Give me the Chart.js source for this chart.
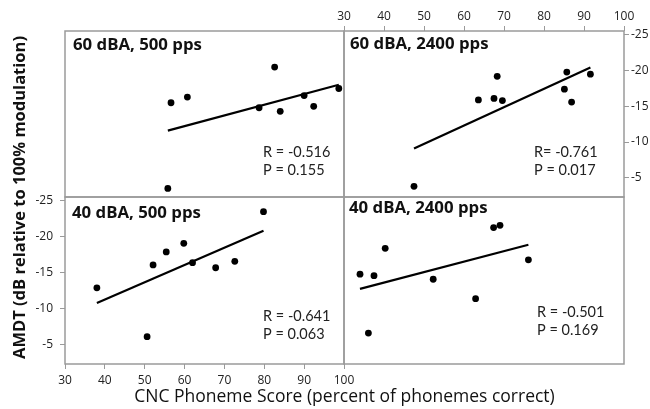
<!DOCTYPE html>
<html>
<head>
<meta charset="utf-8">
<script src="https://cdn.jsdelivr.net/npm/chart.js@4.4.1/dist/chart.umd.min.js"></script>
<style>
    html, body { margin: 0; padding: 0; background: #fff; }
    #wrap { position: relative; width: 650px; height: 409px; }
    #wrap canvas { position: absolute; left: 0; top: 0; }
</style>
</head>
<body>
<div id="wrap">
    <canvas id="p60_500" width="650" height="409"></canvas>
    <canvas id="p60_2400" width="650" height="409"></canvas>
    <canvas id="p40_500" width="650" height="409"></canvas>
    <canvas id="p40_2400" width="650" height="409"></canvas>
</div>
<script>
// Axis ticks shared by all four panels
const scoreTicks = [30, 40, 50, 60, 70, 80, 90, 100];
const amdtTicks = [-25, -20, -15, -10, -5];

// CNC phoneme score (%) and AMDT (dB) per listener, one pair per condition
const score60_500 = [56.6, 60.7, 82.6, 78.7, 84.0, 90.0, 92.4, 98.7, 55.8];
const amdt60_500 = [-15.5, -16.3, -20.5, -14.8, -14.3, -16.5, -15.0, -17.5, -3.5];

const score60_2400 = [63.6, 67.5, 68.3, 69.6, 85.7, 85.1, 86.9, 91.6, 47.5];
const amdt60_2400 = [-15.9, -16.1, -19.2, -15.8, -19.8, -17.4, -15.6, -19.5, -3.8];

const score40_500 = [38.0, 52.1, 55.4, 59.8, 62.0, 67.8, 72.6, 79.8, 50.6];
const amdt40_500 = [-12.9, -16.1, -17.9, -19.1, -16.4, -15.7, -16.6, -23.5, -6.1];

const score40_2400 = [34.0, 37.5, 40.3, 52.3, 62.9, 67.4, 69.0, 76.1, 36.1];
const amdt40_2400 = [-14.8, -14.6, -18.4, -14.1, -11.4, -21.3, -21.6, -16.8, -6.6];

// Panel headings and correlation statistics
const panelTitles = ['60 dBA, 500 pps', '60 dBA, 2400 pps', '40 dBA, 500 pps', '40 dBA, 2400 pps'];
const rPrefix = ['R = ', 'R= ', 'R = ', 'R = '];
const rValues = [-0.516, -0.761, -0.641, -0.501];
const pValues = [0.155, 0.017, 0.063, 0.169];

const xTitle = 'CNC Phoneme Score (percent of phonemes correct)';
const yTitle = 'AMDT (dB relative to 100% modulation)';

// Plot frame in page pixels
const frame = { left: 65, mid: 344, right: 624, top: 31, midY: 197, bottom: 364 };
const W = 650, H = 409;

const TICK_FONT = { family: "'Open Sans', sans-serif", size: 12 };
const FRAME_COLOR = '#9a9a9a';

// Least-squares line over the range of the data
function fitLine(xs, ys) {
    const n = xs.length;
    const mx = xs.reduce((a, b) => a + b, 0) / n;
    const my = ys.reduce((a, b) => a + b, 0) / n;
    let sxy = 0, sxx = 0;
    for (let i = 0; i < n; i++) {
        sxy += (xs[i] - mx) * (ys[i] - my);
        sxx += (xs[i] - mx) * (xs[i] - mx);
    }
    const slope = sxy / sxx;
    const x0 = Math.min(...xs), x1 = Math.max(...xs);
    return [
        { x: x0, y: my + slope * (x0 - mx) },
        { x: x1, y: my + slope * (x1 - mx) }
    ];
}

function makePanel(id, idx, xs, ys, opt) {
    const pts = xs.map((x, i) => ({ x, y: ys[i] }));

    const panelText = {
        id: 'panelText',
        afterDraw(chart) {
            const { ctx, chartArea: a } = chart;
            ctx.save();
            // frame
            ctx.strokeStyle = FRAME_COLOR;
            ctx.lineWidth = 1.5;
            ctx.strokeRect(a.left, a.top, a.right - a.left, a.bottom - a.top);

            // heading
            ctx.fillStyle = '#111';
            ctx.textBaseline = 'middle';
            ctx.textAlign = 'left';
            ctx.font = "bold 16.8px 'Open Sans', sans-serif";
            ctx.fillText(panelTitles[idx], a.left + opt.title[0], a.top + opt.title[1]);

            // R and P
            ctx.font = "14.5px Lato, sans-serif";
            ctx.fillStyle = '#222';
            const sx = a.left + opt.stats[0], sy = a.top + opt.stats[1];
            ctx.fillText(rPrefix[idx] + rValues[idx].toFixed(3), sx, sy);
            ctx.fillText('P = ' + pValues[idx].toFixed(3), sx, sy + 18);

            if (opt.titles) {
                ctx.fillStyle = '#111';
                ctx.textAlign = 'center';
                ctx.font = "17.5px 'Open Sans', sans-serif";
                ctx.fillText(xTitle, (frame.left + frame.right) / 2, 397);
                ctx.translate(20, (frame.top + frame.bottom) / 2);
                ctx.rotate(-Math.PI / 2);
                ctx.font = "bold 16.5px 'Open Sans', sans-serif";
                ctx.fillText(yTitle, 0, 0);
            }
            ctx.restore();
        }
    };

    const axisCommon = (ticks, axis) => ({
        type: 'linear',
        display: axis.show,
        position: axis.pos,
        afterBuildTicks: s => { s.ticks = ticks.map(v => ({ value: v })); },
        afterFit: s => {
            if (axis.size == null) return;
            if (s.isHorizontal()) s.height = axis.size; else s.width = axis.size;
        },
        grid: { drawOnChartArea: false, drawTicks: true, tickLength: 5, color: FRAME_COLOR },
        border: { display: false },
        ticks: {
            autoSkip: false, maxRotation: 0, padding: axis.pad,
            color: '#222', font: TICK_FONT
        }
    });

    return new Chart(document.getElementById(id), {
        data: {
            datasets: [
                {
                    type: 'scatter',
                    data: pts,
                    backgroundColor: '#000',
                    borderWidth: 0,
                    pointRadius: 3.4,
                    clip: false
                },
                {
                    type: 'line',
                    data: fitLine(xs, ys),
                    borderColor: '#000',
                    borderWidth: 2.2,
                    pointRadius: 0,
                    fill: false
                }
            ]
        },
        options: {
            responsive: false,
            animation: false,
            devicePixelRatio: 1,
            layout: { padding: opt.padding },
            scales: {
                x: Object.assign(axisCommon(scoreTicks, opt.x), { min: 30, max: 100 }),
                y: Object.assign(axisCommon(amdtTicks, opt.y), { min: -25.55, max: -2.3, reverse: true })
            },
            plugins: { legend: { display: false }, tooltip: { enabled: false } }
        },
        plugins: [panelText]
    });
}

const hidden = { show: false, pos: 'bottom', pad: 0 };

makePanel('p60_500', 0, score60_500, amdt60_500, {
    padding: { left: frame.left, top: frame.top, right: W - frame.mid, bottom: H - frame.midY },
    x: hidden, y: Object.assign({}, hidden, { pos: 'left' }),
    title: [8, 14], stats: [198, 121]
});

makePanel('p60_2400', 1, score60_2400, amdt60_2400, {
    padding: { left: frame.mid, top: 0, right: 0, bottom: H - frame.midY },
    x: { show: true, pos: 'top', size: frame.top, pad: 2 },
    y: { show: true, pos: 'right', size: W - frame.right, pad: 2 },
    title: [6, 13], stats: [190, 121]
});

makePanel('p40_500', 2, score40_500, amdt40_500, {
    padding: { left: 0, top: frame.midY, right: W - frame.mid, bottom: 0 },
    x: { show: true, pos: 'bottom', size: H - frame.bottom, pad: 4 },
    y: { show: true, pos: 'left', size: frame.left, pad: 7 },
    title: [7, 16], stats: [198, 119], titles: true
});

makePanel('p40_2400', 3, score40_2400, amdt40_2400, {
    padding: { left: frame.mid, top: frame.midY, right: W - frame.right, bottom: H - frame.bottom },
    x: hidden, y: Object.assign({}, hidden, { pos: 'left' }),
    title: [5, 11], stats: [193, 115]
});
</script>
</body>
</html>
